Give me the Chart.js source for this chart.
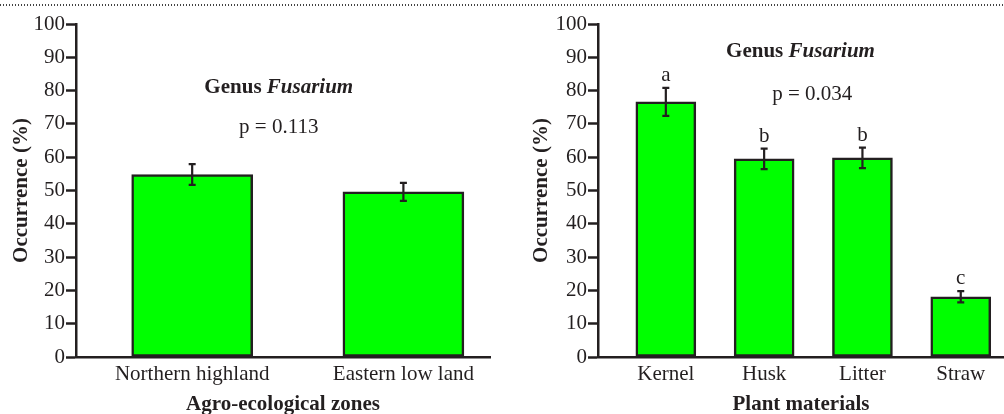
<!DOCTYPE html>
<html>
<head>
<meta charset="utf-8">
<script src="https://cdn.jsdelivr.net/npm/chart.js@4.4.1/dist/chart.umd.min.js"></script>
<style>
  html, body { margin: 0; padding: 0; background: #fff; }
  body { width: 1004px; height: 414px; position: relative; overflow: hidden; }
  #rule { position: absolute; left: 0; top: 4px; width: 1004px; height: 2px;
          background: repeating-linear-gradient(to right, #444 0 1.5px, transparent 1.5px 3px); }
  canvas { position: absolute; top: 0; }
  #zonesChart { left: 0; }
  #materialsChart { left: 520px; }
</style>
</head>
<body>
<div id="rule"></div>
<canvas id="zonesChart" width="500" height="414"></canvas>
<canvas id="materialsChart" width="484" height="414"></canvas>
<script>
// Occurrence of genus Fusarium by agro-ecological zone
const zones = ['Northern highland', 'Eastern low land'];
const zoneOccurrence = [54.8, 49.6];
const zoneError = [3.1, 2.7];
const zoneP = 'p = 0.113';

// Occurrence of genus Fusarium by plant material
const materials = ['Kernel', 'Husk', 'Litter', 'Straw'];
const materialOccurrence = [76.6, 59.5, 59.8, 18.1];
const materialError = [4.2, 3.1, 3.1, 1.7];
const materialGroups = ['a', 'b', 'b', 'c'];
const materialP = 'p = 0.034';

const yTicks = [0, 10, 20, 30, 40, 50, 60, 70, 80, 90, 100];

const SERIF = '"Liberation Serif", "Times New Roman", serif';
const INK = '#231f20';
const GREEN = '#00ff00';

// Error bars (and optional group letters) drawn from the scales
function errorBars(errors, groups) {
  return {
    id: 'errorBars',
    afterDatasetsDraw(chart) {
      const { ctx, scales: { x, y } } = chart;
      const pts = chart.data.datasets[0].data;
      ctx.save();
      ctx.strokeStyle = INK;
      ctx.fillStyle = INK;
      ctx.lineWidth = 2.2;
      ctx.font = '21px ' + SERIF;
      ctx.textAlign = 'center';
      ctx.textBaseline = 'alphabetic';
      pts.forEach((p, i) => {
        const px = x.getPixelForValue(p.x);
        const top = y.getPixelForValue(p.y + errors[i]);
        const bot = y.getPixelForValue(p.y - errors[i]);
        ctx.beginPath();
        ctx.moveTo(px, top); ctx.lineTo(px, bot);
        ctx.moveTo(px - 3.5, top); ctx.lineTo(px + 3.5, top);
        ctx.moveTo(px - 3.5, bot); ctx.lineTo(px + 3.5, bot);
        ctx.stroke();
        if (groups) ctx.fillText(groups[i], px, top - 7);
      });
      ctx.restore();
    }
  };
}

// "Genus Fusarium" heading and p-value placed in data space
function heading(titleAt, pText, pAt) {
  return {
    id: 'heading',
    afterDatasetsDraw(chart) {
      const { ctx, scales: { x, y } } = chart;
      ctx.save();
      ctx.fillStyle = INK;
      ctx.textBaseline = 'middle';
      ctx.textAlign = 'left';
      const boldFont = 'bold 21px ' + SERIF;
      const italFont = 'italic bold 21px ' + SERIF;
      ctx.font = boldFont;
      const w1 = ctx.measureText('Genus ').width;
      ctx.font = italFont;
      const w2 = ctx.measureText('Fusarium').width;
      const cx = x.getPixelForValue(titleAt[0]);
      const cy = y.getPixelForValue(titleAt[1]);
      const sx = cx - (w1 + w2) / 2;
      ctx.font = boldFont;
      ctx.fillText('Genus ', sx, cy);
      ctx.font = italFont;
      ctx.fillText('Fusarium', sx + w1, cy);
      ctx.font = '21px ' + SERIF;
      ctx.textAlign = 'center';
      ctx.fillText(pText, x.getPixelForValue(pAt[0]), y.getPixelForValue(pAt[1]));
      ctx.restore();
    }
  };
}

function buildChart(canvasId, cats, values, errors, groups, cfg) {
  return new Chart(document.getElementById(canvasId), {
    type: 'bar',
    data: {
      datasets: [{
        data: cats.map((c, i) => ({ x: i, y: values[i] })),
        backgroundColor: GREEN,
        borderColor: INK,
        borderWidth: 2.5,
        borderSkipped: false,
        barThickness: cfg.barThickness
      }]
    },
    options: {
      responsive: false,
      animation: false,
      devicePixelRatio: 1,
      layout: { padding: { top: 24, right: cfg.padRight, bottom: 0, left: 0 } },
      plugins: { legend: { display: false }, tooltip: { enabled: false } },
      scales: {
        x: {
          type: 'linear',
          offset: false,
          min: cfg.xMin,
          max: cfg.xMax,
          afterBuildTicks: s => { s.ticks = cats.map((c, i) => ({ value: i })); },
          afterFit: s => { s.height = 57; },
          ticks: {
            callback: v => cats[v],
            color: INK,
            font: { family: SERIF, size: 21 },
            padding: 5,
            maxRotation: 0,
            autoSkip: false
          },
          grid: { display: false, drawTicks: false },
          border: { display: true, color: INK, width: 2.5 },
          title: {
            display: true,
            text: cfg.xTitle,
            color: INK,
            font: { family: SERIF, size: 21, weight: 'bold', lineHeight: 0.9 },
            padding: { top: 0, bottom: 0 }
          }
        },
        y: {
          min: 0,
          max: 100,
          afterBuildTicks: s => { s.ticks = yTicks.map(v => ({ value: v })); },
          afterFit: s => { s.width = cfg.yWidth; },
          ticks: { color: INK, font: { family: SERIF, size: 21 }, padding: 1 },
          grid: { display: true, drawOnChartArea: false, drawTicks: true, tickLength: 10, tickColor: INK, tickWidth: 2.5 },
          border: { display: true, color: INK, width: 2.5 },
          title: {
            display: true,
            text: 'Occurrence (%)',
            color: INK,
            font: { family: SERIF, size: 21, weight: 'bold' },
            padding: { top: 9, bottom: 0 }
          }
        }
      }
    },
    plugins: [errorBars(errors, groups), heading(cfg.titleAt, cfg.pText, cfg.pAt)]
  });
}

buildChart('zonesChart', zones, zoneOccurrence, zoneError, null, {
  barThickness: 121, padRight: 10, yWidth: 76, xMin: -0.55, xMax: 1.41,
  xTitle: 'Agro-ecological zones',
  titleAt: [0.41, 80.9], pText: zoneP, pAt: [0.41, 68.8]
});

buildChart('materialsChart', materials, materialOccurrence, materialError, materialGroups, {
  barThickness: 60, padRight: 0, yWidth: 78, xMin: -0.69, xMax: 3.44,
  xTitle: 'Plant materials',
  titleAt: [1.37, 91.6], pText: materialP, pAt: [1.49, 78.7]
});
</script>
</body>
</html>
